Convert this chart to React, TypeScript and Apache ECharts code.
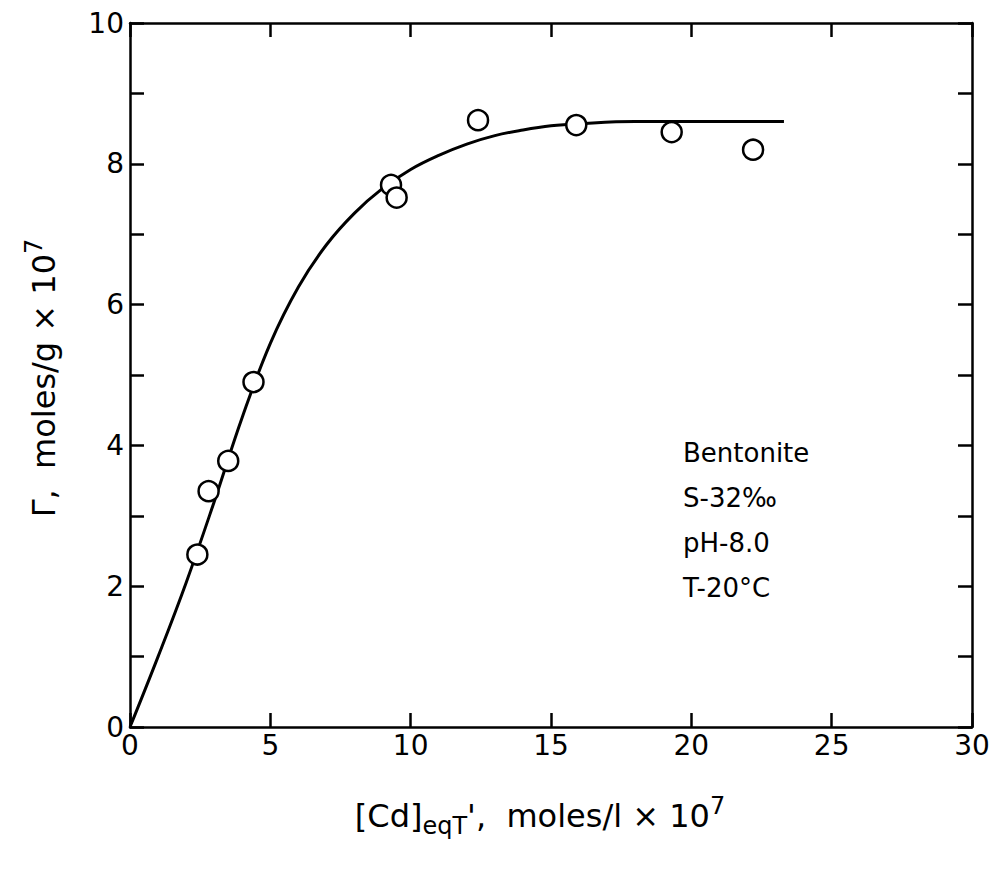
import { useEffect, useRef } from "react";
import * as echarts from "echarts";

const pointsX = [2.4, 2.8, 3.5, 4.4, 9.3, 9.5, 12.4, 15.9, 19.3, 22.2];
const pointsY = [2.45, 3.35, 3.78, 4.9, 7.7, 7.52, 8.62, 8.55, 8.45, 8.2];
const curveX = [0, 1, 2, 3, 4, 5, 6, 7, 8, 9, 10, 11, 12, 13, 14, 15, 16, 18, 20, 23.3];
const curveY = [0, 1.0, 2.05, 3.2, 4.4, 5.45, 6.25, 6.85, 7.3, 7.65, 7.92, 8.12, 8.28, 8.4, 8.48, 8.54, 8.57, 8.6, 8.6, 8.6];
const notes = ["Bentonite", "S-32‰", "pH-8.0", "T-20°C"];

const FONT = "DejaVu Sans";

export default function App() {
  const ref = useRef<HTMLDivElement | null>(null);

  useEffect(() => {
    if (!ref.current) return;
    const chart = echarts.init(ref.current, null, { renderer: "svg" });

    const axisLine = { show: true, onZero: false, lineStyle: { color: "#000", width: 2.5 } };
    const tick = { show: true, inside: true, length: 14, lineStyle: { color: "#000", width: 2.5 } };
    const xBase = { type: "value" as const, min: 0, max: 30, interval: 5, axisLine, axisTick: tick, splitLine: { show: false } };
    const yBase = { type: "value" as const, min: 0, max: 10, interval: 1, axisLine, axisTick: tick, splitLine: { show: false } };

    chart.setOption({
      animation: false,
      backgroundColor: "#fff",
      grid: { left: 122, right: 25, top: 15, bottom: 144 },
      xAxis: [
        { ...xBase, position: "bottom", axisLabel: { color: "#000", fontSize: 28, fontFamily: FONT, margin: 4 } },
        { ...xBase, position: "top", axisLabel: { show: false } },
      ],
      yAxis: [
        {
          ...yBase, position: "left",
          axisLabel: { color: "#000", fontSize: 28, fontFamily: FONT, margin: 6, formatter: (v: number) => (v % 2 === 0 ? String(v) : "") },
        },
        { ...yBase, position: "right", axisLabel: { show: false } },
      ],
      series: [
        {
          type: "line", smooth: 0.4, showSymbol: false,
          lineStyle: { color: "#000", width: 3 },
          data: curveX.map((x, i) => [x, curveY[i]]),
        },
        {
          type: "scatter", symbol: "circle", symbolSize: 20,
          itemStyle: { color: "#fff", borderColor: "#000", borderWidth: 2.5, opacity: 1 },
          data: pointsX.map((x, i) => [x, pointsY[i]]),
          z: 3,
        },
      ],
      graphic: [
        ...notes.map((t, i) => ({
          type: "text", left: 675, top: 432 + i * 45,
          style: { text: t, fontSize: 26, fontFamily: FONT, fill: "#000" },
        })),
        {
          type: "text", x: 532, y: 808,
          style: {
            text: "{a|[Cd]}{s|eqT}{a|',  moles/l × 10}{p|7}",
            align: "center", verticalAlign: "middle",
            rich: {
              a: { fontSize: 32, fontFamily: FONT, fill: "#000" },
              s: { fontSize: 24, fontFamily: FONT, fill: "#000", verticalAlign: "bottom", padding: [20, 0, 0, 0] },
              p: { fontSize: 24, fontFamily: FONT, fill: "#000", padding: [0, 0, 20, 0] },
            },
          },
        },
        {
          type: "text", x: 36, y: 370, rotation: Math.PI / 2,
          style: {
            text: "{a|Γ,  moles/g × 10}{p|7}",
            align: "center", verticalAlign: "middle",
            rich: {
              a: { fontSize: 32, fontFamily: FONT, fill: "#000" },
              p: { fontSize: 24, fontFamily: FONT, fill: "#000", padding: [0, 0, 20, 0] },
            },
          },
        },
      ],
    });

    return () => chart.dispose();
  }, []);

  return <div ref={ref} style={{ width: 989, height: 863 }} />;
}
